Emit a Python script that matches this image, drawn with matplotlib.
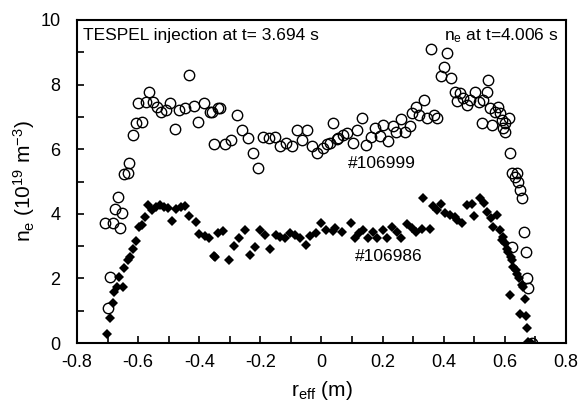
import matplotlib.pyplot as plt
import numpy as np

plt.rcParams["font.family"] = ["Liberation Sans", "DejaVu Sans"]
plt.rcParams["mathtext.default"] = "regular"

# shot #106999 (open circles), TESPEL injection
r_106999 = [-0.708, -0.698, -0.692, -0.683, -0.676, -0.665, -0.659, -0.652, -0.645,
            -0.632, -0.629, -0.618, -0.608, -0.599, -0.586, -0.574, -0.564, -0.550,
            -0.539, -0.526, -0.509, -0.496, -0.479, -0.465, -0.447, -0.433, -0.417,
            -0.403, -0.383, -0.365, -0.359, -0.351, -0.338, -0.332, -0.316, -0.297,
            -0.277, -0.261, -0.241, -0.225, -0.207, -0.190, -0.171, -0.152, -0.136,
            -0.116, -0.097, -0.081, -0.065, -0.048, -0.032, -0.016, 0.004, 0.019,
            0.028, 0.037, 0.050, 0.055, 0.071, 0.085, 0.102, 0.115, 0.132, 0.146,
            0.161, 0.175, 0.192, 0.202, 0.219, 0.233, 0.244, 0.259, 0.273, 0.288,
            0.295, 0.309, 0.320, 0.335, 0.344, 0.358, 0.368, 0.379, 0.391, 0.401,
            0.412, 0.423, 0.437, 0.443, 0.453, 0.464, 0.475, 0.486, 0.502, 0.516,
            0.524, 0.530, 0.541, 0.546, 0.551, 0.557, 0.568, 0.579, 0.584, 0.590,
            0.595, 0.600, 0.600, 0.615, 0.617, 0.622, 0.622, 0.633, 0.639, 0.644,
            0.650, 0.655, 0.663, 0.669, 0.671, 0.676, 0.690]
ne_106999 = [3.73, 1.07, 2.03, 3.71, 4.15, 4.53, 3.55, 4.03, 5.23,
             5.25, 5.58, 6.44, 6.80, 7.44, 6.83, 7.47, 7.76, 7.45,
             7.32, 7.16, 7.21, 7.42, 6.63, 7.21, 7.28, 8.30, 7.35,
             6.83, 7.44, 7.14, 7.16, 6.15, 7.27, 7.28, 6.15, 6.28,
             7.06, 6.59, 6.34, 5.89, 5.41, 6.39, 6.34, 6.39, 6.10,
             6.20, 6.10, 6.59, 6.28, 6.59, 6.10, 5.87, 6.03, 6.16,
             6.18, 6.80, 6.32, 6.34, 6.44, 6.51, 6.20, 6.59, 6.98, 6.13,
             6.37, 6.67, 6.42, 6.75, 6.25, 6.72, 6.54, 6.93, 6.54, 6.72,
             7.13, 7.32, 7.06, 7.52, 6.96, 9.09, 7.06, 6.96, 8.27, 8.55,
             8.97, 8.19, 7.78, 7.50, 7.73, 7.57, 7.37, 7.52, 7.78, 7.47,
             6.80, 7.52, 7.78, 8.14, 7.27, 6.75, 7.16, 7.32, 7.11, 6.90,
             6.65, 6.80, 6.54, 6.96, 5.87, 5.25, 2.98, 5.15, 5.25, 4.99,
             4.74, 4.48, 3.45, 2.83, 2.00, 1.69, 0.00]

# shot #106986 (filled diamonds)
r_106986 = [-0.701, -0.692, -0.683, -0.679, -0.670, -0.662, -0.650, -0.645, -0.634,
            -0.627, -0.618, -0.607, -0.596, -0.588, -0.578, -0.567, -0.556, -0.541,
            -0.528, -0.515, -0.501, -0.490, -0.476, -0.461, -0.447, -0.433, -0.411,
            -0.400, -0.381, -0.367, -0.352, -0.348, -0.338, -0.321, -0.302, -0.286,
            -0.269, -0.250, -0.234, -0.218, -0.201, -0.185, -0.168, -0.149, -0.136,
            -0.119, -0.103, -0.087, -0.070, -0.051, -0.038, -0.018, 0.000, 0.015,
            0.039, 0.044, 0.066, 0.096, 0.110, 0.124, 0.137, 0.153, 0.168, 0.183,
            0.200, 0.213, 0.230, 0.246, 0.259, 0.279, 0.295, 0.309, 0.328, 0.333,
            0.355, 0.366, 0.377, 0.390, 0.404, 0.421, 0.437, 0.442, 0.459, 0.475,
            0.492, 0.500, 0.519, 0.532, 0.541, 0.555, 0.562, 0.573, 0.584, 0.590,
            0.595, 0.601, 0.606, 0.611, 0.617, 0.620, 0.622, 0.628, 0.635, 0.639,
            0.647, 0.650, 0.655, 0.660, 0.666, 0.669, 0.671, 0.677, 0.685]
ne_106986 = [0.28, 0.76, 1.23, 1.59, 1.74, 2.05, 1.74, 2.31, 2.57,
             2.67, 2.90, 3.17, 3.60, 3.65, 3.89, 4.27, 4.12, 4.20,
             4.27, 4.22, 4.17, 3.78, 4.14, 4.20, 4.24, 3.93, 3.76,
             3.37, 3.32, 3.24, 2.69, 2.65, 3.40, 3.48, 2.57, 3.00,
             3.24, 3.50, 2.72, 2.96, 3.50, 3.34, 2.90, 3.34, 3.29,
             3.24, 3.40, 3.34, 3.24, 3.03, 3.31, 3.41, 3.72, 3.50,
             3.48, 3.55, 3.45, 3.72, 3.24, 3.40, 3.50, 3.24, 3.45, 3.24,
             3.50, 3.24, 3.60, 3.45, 3.24, 3.68, 3.55, 3.45, 3.52, 4.48,
             3.52, 4.24, 4.12, 4.30, 4.02, 3.96, 3.91, 3.81, 3.72, 4.27,
             4.30, 3.93, 4.48, 4.34, 4.06, 3.86, 3.60, 3.96, 3.50, 3.20,
             3.29, 3.09, 2.90, 2.83, 1.49, 2.65, 2.57, 2.36, 2.25, 2.13,
             2.00, 0.90, 1.80, 1.74, 1.35, 0.84, 0.47, 0.02, 0.00]

x_ticks = [-0.8, -0.6, -0.4, -0.2, 0, 0.2, 0.4, 0.6, 0.8]
x_labels = ["-0.8", "-0.6", "-0.4", "-0.2", "0", "0.2", "0.4", "0.6", "0.8"]

fig = plt.figure(figsize=(5.87, 4.07), dpi=100)
ax = fig.add_axes([0.1312, 0.1572, 0.8330, 0.7937])

ax.plot(r_106986, ne_106986, linestyle="none", marker="D", markersize=4.8,
        color="black", markeredgewidth=0)
ax.plot(r_106999, ne_106999, linestyle="none", marker="o", markersize=7.5,
        markerfacecolor="none", markeredgecolor="black", markeredgewidth=1.0)

ax.set_xlim(-0.8, 0.8)
ax.set_ylim(0, 10)
ax.set_xticks(x_ticks)
ax.set_xticks(np.arange(-0.8, 0.81, 0.1), minor=True)
ax.set_xticklabels(x_labels)
ax.set_yticks(np.arange(0, 11, 2))
ax.set_yticks(np.arange(0, 11, 1), minor=True)
ax.tick_params(which="both", direction="in", length=5, width=1.2, labelsize=13)
ax.tick_params(axis="x", pad=8)
ax.tick_params(axis="y", pad=12)
for sp in ax.spines.values():
    sp.set_linewidth(1.5)

ax.set_xlabel("$r_{eff}$ (m)", fontsize=15, labelpad=6)
ax.set_ylabel("$n_e$ (10$^{19}$ m$^{-3}$)", fontsize=15, labelpad=2)

ax.text(0.012, 0.953, "TESPEL injection at t= 3.694 s", transform=ax.transAxes,
        fontsize=12.5, ha="left", va="center")
ax.text(0.985, 0.953, "$n_e$ at t=4.006 s", transform=ax.transAxes,
        fontsize=12.5, ha="right", va="center")
ax.text(0.088, 5.57, "#106999", fontsize=12.5, ha="left", va="center")
ax.text(0.108, 2.69, "#106986", fontsize=12.5, ha="left", va="center")

fig.savefig("out.png", dpi=100)
